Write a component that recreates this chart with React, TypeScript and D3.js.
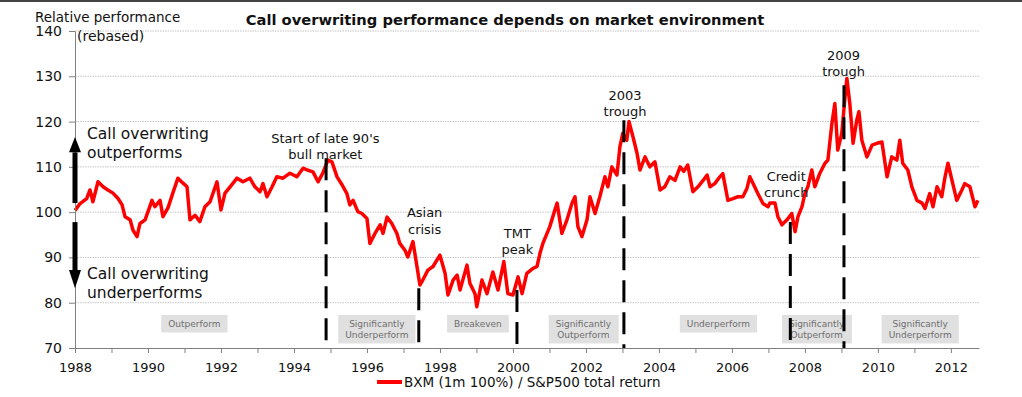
import React, { useRef, useEffect } from "react";
import * as d3 from "d3";

// BXM / S&P500 relative performance (decimal years)
const dates = [
  1988.0, 1988.14, 1988.32, 1988.41, 1988.49, 1988.63, 1988.77, 1988.9, 1989.04, 1989.18,
  1989.29, 1989.37, 1989.51, 1989.59, 1989.7, 1989.78, 1989.92, 1990.11, 1990.19, 1990.33,
  1990.41, 1990.55, 1990.68, 1990.82, 1990.96, 1991.07, 1991.15, 1991.29, 1991.42, 1991.56,
  1991.7, 1991.89, 1992.0, 1992.11, 1992.25, 1992.44, 1992.6, 1992.79, 1992.93, 1993.07,
  1993.15, 1993.26, 1993.4, 1993.53, 1993.7, 1993.89, 1994.08, 1994.25, 1994.36, 1994.52,
  1994.66, 1994.79, 1994.93, 1995.04, 1995.18, 1995.32, 1995.45, 1995.53, 1995.62, 1995.75,
  1995.86, 1996.0, 1996.08, 1996.22, 1996.36, 1996.44, 1996.55, 1996.68, 1996.82, 1996.9,
  1997.04, 1997.12, 1997.26, 1997.37, 1997.45, 1997.53, 1997.67, 1997.81, 1998.0, 1998.14,
  1998.22, 1998.36, 1998.47, 1998.55, 1998.74, 1998.82, 1998.96, 1999.01, 1999.15, 1999.29,
  1999.45, 1999.59, 1999.75, 1999.86, 2000.0, 2000.14, 2000.25, 2000.38, 2000.55, 2000.66,
  2000.74, 2000.82, 2001.01, 2001.15, 2001.21, 2001.34, 2001.48, 2001.62, 2001.7, 2001.78,
  2001.89, 2002.03, 2002.11, 2002.25, 2002.38, 2002.52, 2002.6, 2002.71, 2002.85, 2002.93,
  2003.01, 2003.12, 2003.18, 2003.29, 2003.4, 2003.48, 2003.62, 2003.75, 2003.89, 2004.03,
  2004.16, 2004.3, 2004.44, 2004.58, 2004.68, 2004.79, 2004.93, 2005.07, 2005.21, 2005.32,
  2005.4, 2005.53, 2005.67, 2005.75, 2005.89, 2006.03, 2006.16, 2006.3, 2006.41, 2006.49,
  2006.58, 2006.71, 2006.85, 2006.99, 2007.04, 2007.18, 2007.26, 2007.37, 2007.51, 2007.64,
  2007.73, 2007.81, 2007.92, 2008.0, 2008.08, 2008.19, 2008.27, 2008.41, 2008.55, 2008.63,
  2008.74, 2008.82, 2008.9, 2009.01, 2009.1, 2009.15, 2009.23, 2009.32, 2009.42, 2009.48,
  2009.56, 2009.7, 2009.84, 2009.97, 2010.11, 2010.25, 2010.38, 2010.52, 2010.6, 2010.68,
  2010.82, 2010.93, 2011.07, 2011.21, 2011.29, 2011.42, 2011.51, 2011.62, 2011.75, 2011.84,
  2011.92, 2012.03, 2012.16, 2012.3, 2012.38, 2012.52, 2012.66, 2012.74,
];

const ratio = [
  100.4, 101.9, 103.0, 104.9, 102.3, 106.7, 105.6, 104.9, 104.2, 103.0,
  101.6, 99.0, 98.3, 96.0, 94.6, 97.5, 98.3, 102.6, 101.2, 102.6,
  99.0, 101.0, 104.2, 107.5, 106.4, 105.6, 98.3, 99.3, 97.9, 101.2,
  102.3, 106.7, 100.5, 104.2, 105.6, 107.5, 106.7, 107.5, 105.6, 104.5,
  106.3, 103.4, 105.6, 107.8, 107.5, 108.6, 107.8, 109.7, 109.3, 108.9,
  106.7, 108.6, 111.5, 111.1, 107.8, 106.0, 104.1, 101.6, 102.6, 100.1,
  99.7, 98.6, 93.1, 95.3, 97.2, 95.3, 98.9, 97.5, 95.3, 93.1,
  91.6, 90.1, 93.5, 88.0, 83.9, 85.0, 87.2, 88.0, 90.5, 86.5,
  81.7, 85.0, 86.1, 82.8, 88.3, 84.3, 82.0, 79.1, 85.0, 82.0,
  86.8, 82.8, 89.1, 82.0, 81.7, 85.7, 82.0, 86.5, 87.6, 88.0,
  90.9, 93.1, 96.8, 100.5, 102.0, 95.3, 98.3, 102.0, 103.4, 96.8,
  94.6, 98.3, 103.4, 99.7, 103.4, 107.8, 105.6, 110.0, 108.2, 114.4,
  117.4, 115.9, 120.0, 116.6, 113.0, 109.3, 112.2, 110.0, 111.1, 104.9,
  105.6, 107.8, 107.0, 110.0, 109.0, 110.4, 104.5, 105.6, 107.0, 108.2,
  105.6, 106.3, 107.8, 108.5, 102.6, 103.0, 103.4, 103.4, 105.2, 107.8,
  106.3, 104.1, 101.9, 101.2, 102.0, 102.0, 99.0, 97.2, 98.3, 99.7,
  95.7, 99.0, 101.2, 104.1, 105.6, 109.3, 105.6, 108.6, 110.8, 111.5,
  119.6, 124.0, 113.7, 117.4, 125.5, 129.5, 124.0, 115.2, 120.3, 122.2,
  115.9, 112.2, 114.8, 115.2, 115.5, 107.8, 112.2, 111.5, 115.9, 110.8,
  109.3, 105.6, 102.6, 102.0, 100.8, 104.1, 101.2, 105.6, 103.4, 107.8,
  110.8, 107.0, 102.6, 104.9, 106.3, 105.6, 101.2, 102.6,
];

const yTicks = [70, 80, 90, 100, 110, 120, 130, 140];
const xTickYears = d3.range(1988, 2013);

// market events (dashed markers)
const eventYears = [1994.88, 1997.42, 2000.11, 2003.04, 2007.6, 2009.07];
const eventTops = [111.9, 83.2, 82.8, 120.3, 97.8, 128.0];
const eventLabels = [
  ["Start of late 90's", "bull market"],
  ["Asian", "crisis"],
  ["TMT", "peak"],
  ["2003", "trough"],
  ["Credit", "crunch"],
  ["2009", "trough"],
];
const labelYears = [1994.86, 1997.58, 2000.12, 2003.07, 2007.49, 2009.06];
const labelValues = [111.7, 95.2, 90.75, 121.2, 103.3, 130.05];

// regime boxes along the bottom
const regimeLabels = [
  ["Outperform"],
  ["Significantly", "Underperform"],
  ["Breakeven"],
  ["Significantly", "Outperform"],
  ["Underperform"],
  ["Significantly", "Outperform"],
  ["Significantly", "Underperform"],
];
const regimeCenters = [1991.27, 1996.27, 1999.04, 2001.93, 2005.63, 2008.32, 2011.16];

const FONT = "'DejaVu Sans', sans-serif";

const CallOverwritingChart = () => {
  const svgRef = useRef<SVGSVGElement>(null);

  useEffect(() => {
    const svg = d3.select(svgRef.current);
    svg.selectAll("*").remove();

    const width = 1022;
    const height = 397;
    const margin = { top: 31, right: 43, bottom: 49, left: 75 };

    const x = d3
      .scaleLinear()
      .domain([1988, 2012.77])
      .range([margin.left, width - margin.right]);
    const y = d3
      .scaleLinear()
      .domain([70, 140])
      .range([height - margin.bottom, margin.top]);

    const points = dates.map((d, i) => ({ date: d, value: ratio[i] }));

    svg.append("rect").attr("width", width).attr("height", height).attr("fill", "white");
    svg.append("rect").attr("width", width).attr("height", 2).attr("fill", "#444");

    // gridlines
    svg
      .append("g")
      .selectAll("line")
      .data(yTicks.slice(1))
      .join("line")
      .attr("x1", margin.left)
      .attr("x2", width - margin.right + 1)
      .attr("y1", (d) => y(d))
      .attr("y2", (d) => y(d))
      .attr("stroke", "#c4c4c4")
      .attr("stroke-width", 1)
      .attr("stroke-dasharray", "1.5,1");

    // regime boxes
    regimeLabels.forEach((lines, i) => {
      const g = svg.append("g");
      const rect = g.append("rect").attr("fill", "#e0e0e0");
      const text = g
        .append("text")
        .attr("font-family", FONT)
        .attr("font-size", 9)
        .attr("fill", "#6e6e6e")
        .attr("text-anchor", "middle");
      lines.forEach((l, j) => {
        text
          .append("tspan")
          .attr("x", x(regimeCenters[i]))
          .attr("y", y(77.3) + 12.5 + j * 11)
          .text(l);
      });
      const bb = (text.node() as SVGTextElement).getBBox();
      rect
        .attr("x", bb.x - 7)
        .attr("y", y(77.3))
        .attr("width", bb.width + 14)
        .attr("height", bb.y + bb.height - y(77.3) + 3);
    });

    // series
    svg
      .append("path")
      .datum(points)
      .attr("fill", "none")
      .attr("stroke", "#ff0000")
      .attr("stroke-width", 3.5)
      .attr("stroke-linejoin", "round")
      .attr(
        "d",
        d3
          .line<{ date: number; value: number }>()
          .x((d) => x(d.date))
          .y((d) => y(d.value))
      );

    // event markers
    eventYears.forEach((yr, i) => {
      svg
        .append("line")
        .attr("x1", x(yr))
        .attr("x2", x(yr))
        .attr("y1", y(eventTops[i]))
        .attr("y2", y(70))
        .attr("stroke", "black")
        .attr("stroke-width", 3)
        .attr("stroke-dasharray", "22,10");
    });

    // axes
    const yAxis = svg
      .append("g")
      .attr("transform", `translate(${margin.left},0)`)
      .call(d3.axisLeft(y).tickValues(yTicks).tickSize(6).tickSizeOuter(0).tickPadding(7));
    yAxis.select(".domain").attr("stroke", "#808080");
    yAxis.selectAll(".tick line").attr("stroke", "#808080");
    yAxis
      .selectAll("text")
      .attr("font-family", FONT)
      .attr("font-size", 14)
      .attr("fill", "#111");

    const xAxis = svg
      .append("g")
      .attr("transform", `translate(0,${y(70)})`)
      .call(
        d3
          .axisBottom(x)
          .tickValues(xTickYears)
          .tickFormat((d) => ((d as number) % 2 === 0 ? String(d) : ""))
          .tickSize(5)
          .tickSizeOuter(0)
          .tickPadding(10)
      );
    xAxis.select(".domain").attr("stroke", "#808080");
    xAxis.selectAll(".tick line").attr("stroke", "#808080");
    xAxis
      .selectAll("text")
      .attr("font-family", FONT)
      .attr("font-size", 13)
      .attr("fill", "#111");

    // outperform / underperform arrows
    const ax = x(1988);
    const arrow = (tail: number, base: number, tip: number) => {
      svg
        .append("rect")
        .attr("x", ax - 2.5)
        .attr("width", 5)
        .attr("y", Math.min(y(tail), y(base)))
        .attr("height", Math.abs(y(tail) - y(base)))
        .attr("fill", "black");
      svg
        .append("path")
        .attr("d", `M${ax - 6},${y(base)} L${ax + 6},${y(base)} L${ax},${y(tip)} Z`)
        .attr("fill", "black");
    };
    arrow(102.0, 113.2, 116.6);
    arrow(97.8, 87.2, 83.2);

    const sideText = (lines: string[], yTop: number) => {
      lines.forEach((l, j) => {
        svg
          .append("text")
          .attr("x", 87)
          .attr("y", yTop + j * 18.5)
          .attr("font-family", FONT)
          .attr("font-size", 15.5)
          .attr("fill", "#111")
          .text(l);
      });
    };
    sideText(["Call overwriting", "outperforms"], 139);
    sideText(["Call overwriting", "underperforms"], 279);

    // event labels
    eventLabels.forEach((lines, i) => {
      const n = lines.length;
      lines.forEach((l, j) => {
        svg
          .append("text")
          .attr("x", x(labelYears[i]))
          .attr("y", y(labelValues[i]) - (n - 1 - j) * 16.5)
          .attr("text-anchor", "middle")
          .attr("font-family", FONT)
          .attr("font-size", 13)
          .attr("fill", "#111")
          .text(l);
      });
    });

    // titles
    svg
      .append("text")
      .attr("x", 505)
      .attr("y", 25)
      .attr("text-anchor", "middle")
      .attr("font-family", FONT)
      .attr("font-weight", "bold")
      .attr("font-size", 14.7)
      .attr("fill", "#111")
      .text("Call overwriting performance depends on market environment");

    svg
      .append("text")
      .attr("x", 35)
      .attr("y", 22)
      .attr("font-family", FONT)
      .attr("font-size", 13.5)
      .attr("fill", "#111")
      .text("Relative performance");
    svg
      .append("text")
      .attr("x", 77)
      .attr("y", 40.5)
      .attr("font-family", FONT)
      .attr("font-size", 14)
      .attr("fill", "#111")
      .text("(rebased)");

    // legend
    svg
      .append("line")
      .attr("x1", 377)
      .attr("x2", 402)
      .attr("y1", 382)
      .attr("y2", 382)
      .attr("stroke", "#ff0000")
      .attr("stroke-width", 4);
    svg
      .append("text")
      .attr("x", 404)
      .attr("y", 387)
      .attr("font-family", FONT)
      .attr("font-size", 13.5)
      .attr("fill", "#111")
      .text("BXM (1m 100%) / S&P500 total return");
  }, []);

  return (
    <svg
      ref={svgRef}
      width={1022}
      height={397}
      style={{ position: "absolute", left: 0, top: 0, display: "block" }}
    />
  );
};

export default function App() {
  return <CallOverwritingChart />;
}
